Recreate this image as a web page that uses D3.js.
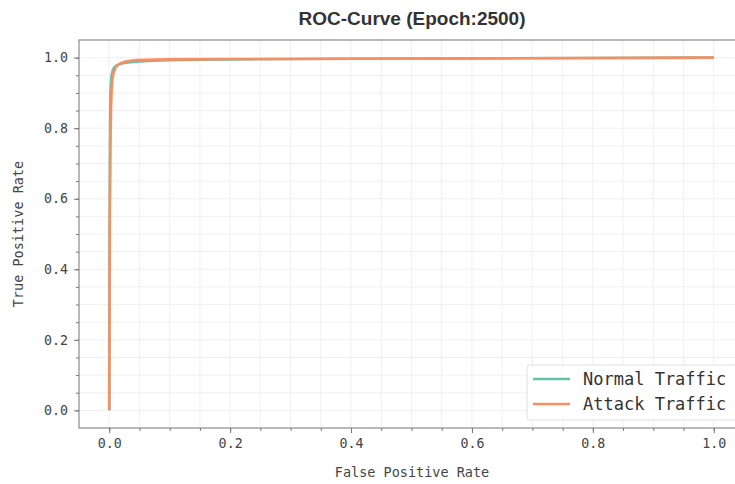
<!DOCTYPE html>
<html>
<head>
<meta charset="utf-8">
<script src="https://cdn.jsdelivr.net/npm/d3@7"></script>
<style>
  body { margin: 0; background: #fff; }
  svg { display: block; }
</style>
</head>
<body>
<div id="chart"></div>
<script>
// curve points
const normalFpr = [0, 0.0005, 0.001, 0.0015, 0.002, 0.003, 0.004, 0.006, 0.008, 0.012, 0.018, 0.025, 0.035, 0.05, 0.07, 0.1, 0.2, 0.4, 0.6, 0.8, 1.0];
const normalTpr = [0, 0.45, 0.7, 0.84, 0.9, 0.935, 0.952, 0.965, 0.972, 0.978, 0.982, 0.985, 0.987, 0.989, 0.991, 0.993, 0.995, 0.997, 0.998, 0.999, 1.0];
const attackFpr = [0, 0.0005, 0.001, 0.002, 0.003, 0.004, 0.005, 0.007, 0.01, 0.014, 0.02, 0.027, 0.035, 0.045, 0.06, 0.1, 0.2, 0.4, 0.6, 0.8, 1.0];
const attackTpr = [0, 0.35, 0.55, 0.76, 0.86, 0.91, 0.935, 0.956, 0.97, 0.979, 0.985, 0.989, 0.991, 0.993, 0.994, 0.995, 0.996, 0.997, 0.998, 0.999, 1.0];
const seriesNames = ["Normal Traffic", "Attack Traffic"];
const majorTicks = [0, 0.2, 0.4, 0.6, 0.8, 1.0];
const minorTicks = d3.range(0, 21).map(i => i * 0.05);

const width = 735, height = 484;
const plotLeft = 79, plotTop = 40, plotH = 388, plotW = 665;

const svg = d3.select("#chart").append("svg")
    .attr("width", width)
    .attr("height", height);

const x = d3.scaleLinear().domain([-0.05, 1.05]).range([plotLeft, plotLeft + plotW]);
const y = d3.scaleLinear().domain([-0.05, 1.05]).range([plotTop + plotH, plotTop]);

const colors = ["#66c2a5", "#fc8d62"];
const mono = "'DejaVu Sans Mono', monospace";

// grid
const g = svg.append("g");
g.selectAll(".vminor").data(minorTicks).enter().append("line")
    .attr("x1", d => x(d)).attr("x2", d => x(d))
    .attr("y1", plotTop).attr("y2", plotTop + plotH)
    .attr("stroke", "#ececec").attr("stroke-width", 0.8);
g.selectAll(".hminor").data(minorTicks).enter().append("line")
    .attr("y1", d => y(d)).attr("y2", d => y(d))
    .attr("x1", plotLeft).attr("x2", plotLeft + plotW)
    .attr("stroke", "#ececec").attr("stroke-width", 0.8);

// frame
svg.append("rect")
    .attr("x", plotLeft).attr("y", plotTop)
    .attr("width", plotW).attr("height", plotH)
    .attr("fill", "none").attr("stroke", "#8a8a8a").attr("stroke-width", 1.2);

// axes
const xAxis = svg.append("g")
    .attr("transform", `translate(0,${plotTop + plotH})`)
    .call(d3.axisBottom(x).tickValues(majorTicks).tickFormat(d3.format(".1f")).tickSize(5).tickPadding(6));
const xMinor = svg.append("g")
    .attr("transform", `translate(0,${plotTop + plotH})`)
    .call(d3.axisBottom(x).tickValues(minorTicks).tickFormat("").tickSize(3));
const yAxis = svg.append("g")
    .attr("transform", `translate(${plotLeft},0)`)
    .call(d3.axisLeft(y).tickValues(majorTicks).tickFormat(d3.format(".1f")).tickSize(5).tickPadding(6));
const yMinor = svg.append("g")
    .attr("transform", `translate(${plotLeft},0)`)
    .call(d3.axisLeft(y).tickValues(minorTicks).tickFormat("").tickSize(3));

[xAxis, xMinor, yAxis, yMinor].forEach(a => {
    a.select(".domain").remove();
    a.selectAll(".tick line").attr("stroke", "#777");
    a.selectAll("text").attr("fill", "#444").style("font-family", mono).style("font-size", "13.3px");
});

// curves
const line = d3.line().x(d => x(d[0])).y(d => y(d[1]));
const series = [
    d3.zip(normalFpr, normalTpr),
    d3.zip(attackFpr, attackTpr)
];
series.forEach((s, i) => {
    svg.append("path")
        .datum(s)
        .attr("d", line)
        .attr("fill", "none")
        .attr("stroke", colors[i])
        .attr("stroke-width", 2.6)
        .attr("stroke-linejoin", "round");
});

// title
svg.append("text")
    .attr("x", 412).attr("y", 25)
    .attr("text-anchor", "middle")
    .style("font-family", "'Liberation Sans', Arial, sans-serif")
    .style("font-weight", "bold")
    .style("font-size", "19px")
    .attr("fill", "#333")
    .text("ROC-Curve (Epoch:2500)");

// axis labels
svg.append("text")
    .attr("x", 412).attr("y", 477)
    .attr("text-anchor", "middle")
    .style("font-family", mono).style("font-size", "13.5px")
    .attr("fill", "#444")
    .text("False Positive Rate");
svg.append("text")
    .attr("transform", "translate(23,234) rotate(-90)")
    .attr("text-anchor", "middle")
    .style("font-family", mono).style("font-size", "13.5px")
    .attr("fill", "#444")
    .text("True Positive Rate");

// legend
const lg = svg.append("g").attr("transform", "translate(527,365)");
lg.append("rect")
    .attr("width", 220).attr("height", 55).attr("rx", 3)
    .attr("fill", "#fff").attr("fill-opacity", 0.85)
    .attr("stroke", "#e0e0e0");
seriesNames.forEach((name, i) => {
    const yy = 14 + i * 25;
    lg.append("line")
        .attr("x1", 6).attr("x2", 43)
        .attr("y1", yy).attr("y2", yy)
        .attr("stroke", colors[i]).attr("stroke-width", 2.6);
    lg.append("text")
        .attr("x", 56).attr("y", yy + 6)
        .style("font-family", mono).style("font-size", "17px")
        .attr("fill", "#333")
        .text(name);
});
</script>
</body>
</html>
